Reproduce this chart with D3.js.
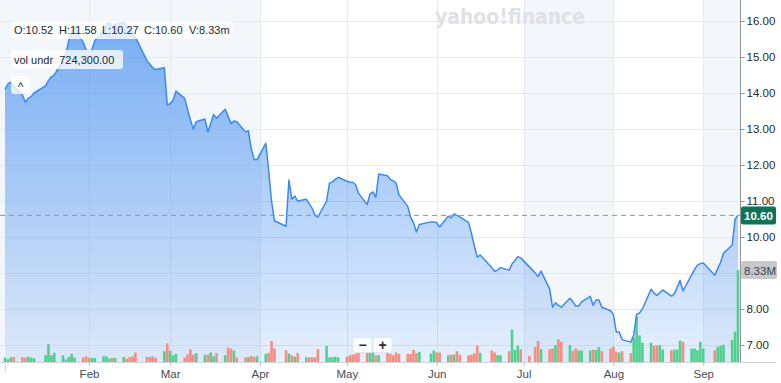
<!DOCTYPE html>
<html><head><meta charset="utf-8">
<script src="https://cdn.jsdelivr.net/npm/d3@7"></script>
<style>
body{margin:0;background:#fff;}
svg{display:block;font-family:"Liberation Sans",Arial,Helvetica,sans-serif;}
</style>
</head><body>
<svg id="c" width="781" height="383"></svg>
<script>
// ---------- DATA ----------
const firstDay = "2023-01-03";
const lastDay  = "2023-09-13";
const holidays = ["2023-01-16","2023-02-20","2023-04-07","2023-05-29","2023-06-19","2023-07-04","2023-09-04"];
const monthTicks  = ["2023-02-01","2023-03-01","2023-04-01","2023-05-01","2023-06-01","2023-07-01","2023-08-01","2023-09-01"];
const monthLabels = ["Feb","Mar","Apr","May","Jun","Jul","Aug","Sep"];
const shadedRanges = [["2023-01-01","2023-04-01"],["2023-07-01","2023-08-01"],["2023-09-01","2023-09-14"]];
const gridValues  = [7,8,9,10,11,12,13,14,15,16];
const labelValues = [7,8,10,11,12,13,14,15,16];   // 9.00 sits under the volume tag

const priceJan = [14.10,14.25,14.30,14.20,13.95,13.75,13.85,13.90,14.00,14.20,14.35,14.45,14.50,14.90,15.10,15.45,15.70,15.85,15.40,15.20];
const priceFeb = [15.15,15.20,15.45,15.75,15.90,15.95,15.85,15.90,15.95,15.85,15.80,15.65,15.55,14.90,14.80,14.70,14.65,14.70,13.67];
const priceMar = [13.70,13.80,14.05,13.85,13.55,13.25,13.00,13.20,13.28,12.92,13.15,13.40,13.30,13.55,13.35,13.15,13.22,13.20,12.92,12.95,12.45,12.15,12.15];
const priceApr = [12.60,11.85,11.00,10.45,10.30,11.58,11.05,11.14,11.00,11.05,10.92,10.80,10.60,10.55,11.00,11.50,11.53,11.60,11.66];
const priceMay = [11.55,11.53,11.52,11.45,11.22,10.90,11.20,11.25,11.10,11.75,11.70,11.60,11.56,11.50,11.17,10.85,10.55,10.40,10.14,10.35,10.42,10.42];
const priceJun = [10.40,10.28,10.58,10.53,10.64,10.60,10.56,10.40,10.10,9.75,9.44,9.50,9.15,9.05,9.08,9.15,9.08,9.25,9.35,9.45,9.42];
const priceJul = [9.17,9.00,8.90,9.05,8.55,8.05,8.17,8.10,8.05,8.30,8.20,8.08,8.08,8.20,8.35,8.10,8.25,8.25,8.05,7.95];
const priceAug = [7.85,7.36,7.36,7.15,7.08,7.28,7.85,7.89,8.00,8.55,8.44,8.38,8.45,8.53,8.36,8.42,8.60,8.80,8.50,8.95,9.10,9.22,9.26];
const priceSep = [9.28,8.94,9.12,9.30,9.55,9.78,10.50,10.60];

// volume in millions
const volJan = [0.40,0.25,0.43,0.45,0.43,0.40,0.49,0.40,0.34,0.61,1.62,0.61,0.83,0.61,0.25,0.46,0.73,0.40,0.40,0.52];
const volFeb = [0.40,0.37,0.37,0.52,0.52,0.31,0.37,0.37,0.46,0.31,0.43,0.52,0.86,0.46,0.46,0.52,0.37,0.98,1.68];
const volMar = [1.01,0.61,0.73,0.40,0.67,1.13,0.67,0.80,0.64,0.67,0.86,0.52,0.80,0.61,1.31,1.22,1.04,0.40,0.43,0.43,0.55,0.46,0.52];
const volApr = [0.73,0.83,1.90,1.22,1.07,0.76,0.61,0.49,0.80,0.43,0.43,0.43,0.43,1.16,1.44,0.43,0.43,0.49,0.43];
const volMay = [0.46,0.61,0.67,0.76,0.92,0.86,0.86,0.86,0.61,0.61,0.86,0.73,0.61,0.86,0.73,0.73,0.73,1.10,0.80,0.92,0.76,1.04];
const volJun = [0.86,0.86,0.61,0.67,0.67,0.98,0.67,0.61,0.67,0.80,1.47,0.83,1.04,0.86,0.61,0.61,0.98,2.93,1.10,1.47,1.16];
const volJul = [0.55,1.35,1.90,1.16,1.16,1.22,1.53,2.05,1.83,1.53,1.01,1.22,1.04,1.04,1.04,1.10,1.10,1.35,0.98,1.22];
const volAug = [1.38,0.92,0.86,0.98,0.80,2.20,4.10,2.40,1.74,1.74,1.47,1.47,1.53,1.13,1.07,1.13,1.13,1.93,1.83,1.22,1.22,1.07,1.83];
const volSep = [1.22,1.07,1.38,1.47,1.56,2.00,2.75,8.33];

const lastPrice = 10.60;
const lastVolumeLabel = "8.33M";
const infoItems = [["O:10.52",14],["H:11.58",59],["L:10.27",102],["C:10.60",144],["V:8.33m",189]];
const studyLabel = "vol undr  724,300.00";

// ---------- SETUP ----------
const svg = d3.select("#c");
const plotLeft = 0, plotRight = 740, plotBottom = 362;
const parse = d3.utcParse("%Y-%m-%d");
const fmt = d3.utcFormat("%Y-%m-%d");
const hol = new Set(holidays);
const start = parse(firstDay), end = parse(lastDay);
const days = d3.utcDays(start, d3.utcDay.offset(end, 1))
  .filter(d => d.getUTCDay() !== 0 && d.getUTCDay() !== 6 && !hol.has(fmt(d)));

const prices = [].concat(priceJan, priceFeb, priceMar, priceApr, priceMay, priceJun, priceJul, priceAug, priceSep);
const vols = [].concat(volJan, volFeb, volMar, volApr, volMay, volJun, volJul, volAug, volSep);
const data = days.map((d, i) => ({date: d, close: prices[i], vol: vols[i], up: i === 0 ? true : prices[i] >= prices[i-1]}));

const x = d3.scaleUtc().domain([start, end]).range([5, 738]);
const y = d3.scaleLinear().domain([7, 16]).range([345, 21]);
const yv = d3.scaleLinear().domain([0, 8.33]).range([plotBottom, 270]);

// gradient
const defs = svg.append("defs");
const grad = defs.append("linearGradient").attr("id","fillg")
  .attr("gradientUnits","userSpaceOnUse").attr("x1",0).attr("y1",20).attr("x2",0).attr("y2",plotBottom);
grad.append("stop").attr("offset",0).attr("stop-color","#1e78f0").attr("stop-opacity",0.58);
grad.append("stop").attr("offset",1).attr("stop-color","#1e78f0").attr("stop-opacity",0.11);

// shaded bands
svg.append("g").selectAll("rect").data(shadedRanges).join("rect")
  .attr("x", d => Math.max(plotLeft, x(parse(d[0]))))
  .attr("y", 0)
  .attr("width", d => Math.min(plotRight, x(parse(d[1]))) - Math.max(plotLeft, x(parse(d[0]))))
  .attr("height", plotBottom)
  .attr("fill", "#f3f6fa");

// horizontal gridlines
svg.append("g").selectAll("line").data(gridValues).join("line")
  .attr("x1", plotLeft).attr("x2", plotRight)
  .attr("y1", d => Math.round(y(d)) + 0.5).attr("y2", d => Math.round(y(d)) + 0.5)
  .attr("stroke", "#e6e9ee").attr("stroke-width", 1);

// vertical gridlines
svg.append("g").selectAll("line").data(monthTicks).join("line")
  .attr("x1", d => Math.round(x(parse(d))) + 0.5).attr("x2", d => Math.round(x(parse(d))) + 0.5)
  .attr("y1", 0).attr("y2", plotBottom)
  .attr("stroke", "#e6e9ee").attr("stroke-width", 1);

// watermark
svg.append("text").attr("x", 435).attr("y", 24)
  .attr("textLength", 150).attr("lengthAdjust", "spacingAndGlyphs")
  .attr("font-size", 21).attr("font-weight", 700)
  .attr("font-family", "'DejaVu Sans', 'Liberation Sans', sans-serif")
  .attr("fill", "#dfe1e4").text("yahoo!finance");

// area
const area = d3.area().x(d => x(d.date)).y0(plotBottom).y1(d => y(d.close));
svg.append("path").datum(data).attr("d", area).attr("fill", "url(#fillg)");

// volume bars
const bw = 2.6;
svg.append("g").selectAll("rect").data(data).join("rect")
  .attr("x", d => x(d.date) - bw/2)
  .attr("y", d => yv(d.vol))
  .attr("width", bw)
  .attr("height", d => plotBottom - yv(d.vol))
  .attr("fill", d => d.up ? "#4fd08d" : "#f98b7f");

// line
const line = d3.line().x(d => x(d.date)).y(d => y(d.close));
svg.append("path").datum(data).attr("d", line)
  .attr("fill", "none").attr("stroke", "#3b88f4").attr("stroke-width", 1.5)
  .attr("stroke-linejoin", "round");

// last price dashed line
svg.append("line").attr("x1", plotLeft).attr("x2", plotRight)
  .attr("y1", y(lastPrice)).attr("y2", y(lastPrice))
  .attr("stroke", "#6fa79c").attr("stroke-width", 1).attr("stroke-dasharray", "5,4");

// right axis
const yAxis = d3.axisRight(y).tickValues(labelValues).tickFormat(d3.format(".2f")).tickSize(4).tickPadding(2);
const ga = svg.append("g").attr("transform", `translate(${plotRight + 0.5},0)`).call(yAxis);
ga.select(".domain").attr("d", `M0,0V${plotBottom}`).attr("stroke", "#8e949b");
ga.selectAll(".tick line").attr("stroke", "#8e949b");
ga.selectAll(".tick text").attr("font-size", 11.5).attr("fill", "#232a31")
  .attr("font-family", "'Liberation Sans', Arial, sans-serif");

// bottom axis
svg.append("line").attr("x1", 0).attr("x2", 776).attr("y1", plotBottom + 0.5).attr("y2", plotBottom + 0.5)
  .attr("stroke", "#d0d4d9");
const xAxis = d3.axisBottom(x).tickValues(monthTicks.map(parse))
  .tickFormat((d, i) => monthLabels[i]).tickSize(4).tickPadding(4);
const gx = svg.append("g").attr("transform", `translate(0,${plotBottom})`).call(xAxis);
gx.select(".domain").remove();
gx.selectAll(".tick line").attr("stroke", "#b8bdc3");
gx.selectAll(".tick text").attr("font-size", 11.5).attr("fill", "#464e56")
  .attr("font-family", "'Liberation Sans', Arial, sans-serif");
// dotted start tick
svg.append("line").attr("x1", 5.5).attr("x2", 5.5).attr("y1", plotBottom + 2).attr("y2", plotBottom + 10)
  .attr("stroke", "#9aa0a6").attr("stroke-dasharray", "1,1.5");

// last price label
svg.append("rect").attr("x", 741).attr("y", y(lastPrice) - 9).attr("width", 35).attr("height", 18)
  .attr("rx", 2).attr("fill", "#0e7357");
svg.append("text").attr("x", 744).attr("y", y(lastPrice) + 4.5)
  .attr("font-size", 11.5).attr("font-weight", 700).attr("fill", "#fff").text(d3.format(".2f")(lastPrice));

// last volume label
const lv = data[data.length - 1].vol;
svg.append("rect").attr("x", 741).attr("y", yv(lv) - 9).attr("width", 36).attr("height", 18)
  .attr("rx", 2).attr("fill", "#c6c8cb");
svg.append("text").attr("x", 744).attr("y", yv(lv) + 4.5)
  .attr("font-size", 11.5).attr("fill", "#3b4147").text(lastVolumeLabel);

// info box
svg.append("rect").attr("x", 11).attr("y", 21).attr("width", 222).attr("height", 18)
  .attr("rx", 3).attr("fill", "#fff").attr("fill-opacity", 0.78);
svg.append("g").selectAll("text").data(infoItems).join("text")
  .attr("x", d => d[1]).attr("y", 34).attr("font-size", 11).attr("fill", "#232a31").text(d => d[0]);

svg.append("rect").attr("x", 11).attr("y", 50).attr("width", 112).attr("height", 19)
  .attr("rx", 3).attr("fill", "#fff").attr("fill-opacity", 0.78);
svg.append("text").attr("x", 14).attr("y", 63.5).attr("font-size", 11).attr("fill", "#232a31")
  .style("white-space", "pre").text(studyLabel);

svg.append("rect").attr("x", 11).attr("y", 76).attr("width", 19).attr("height", 18)
  .attr("rx", 3).attr("fill", "#fff").attr("fill-opacity", 0.78);
svg.append("text").attr("x", 20.5).attr("y", 91).attr("text-anchor", "middle")
  .attr("font-size", 12).attr("fill", "#232a31").text("^");

// zoom buttons
const btns = [["−", 353], ["+", 373]];
const gb = svg.append("g");
btns.forEach(b => {
  gb.append("rect").attr("x", b[1]).attr("y", 337.5).attr("width", 19).attr("height", 15)
    .attr("rx", 2).attr("fill", "#fff").attr("fill-opacity", 0.9).attr("stroke", "#e3e6ea");
  gb.append("text").attr("x", b[1] + 9.5).attr("y", 349.5).attr("text-anchor", "middle")
    .attr("font-size", 14).attr("font-weight", 700).attr("fill", "#232a31").text(b[0]);
});
</script>
</body></html>
